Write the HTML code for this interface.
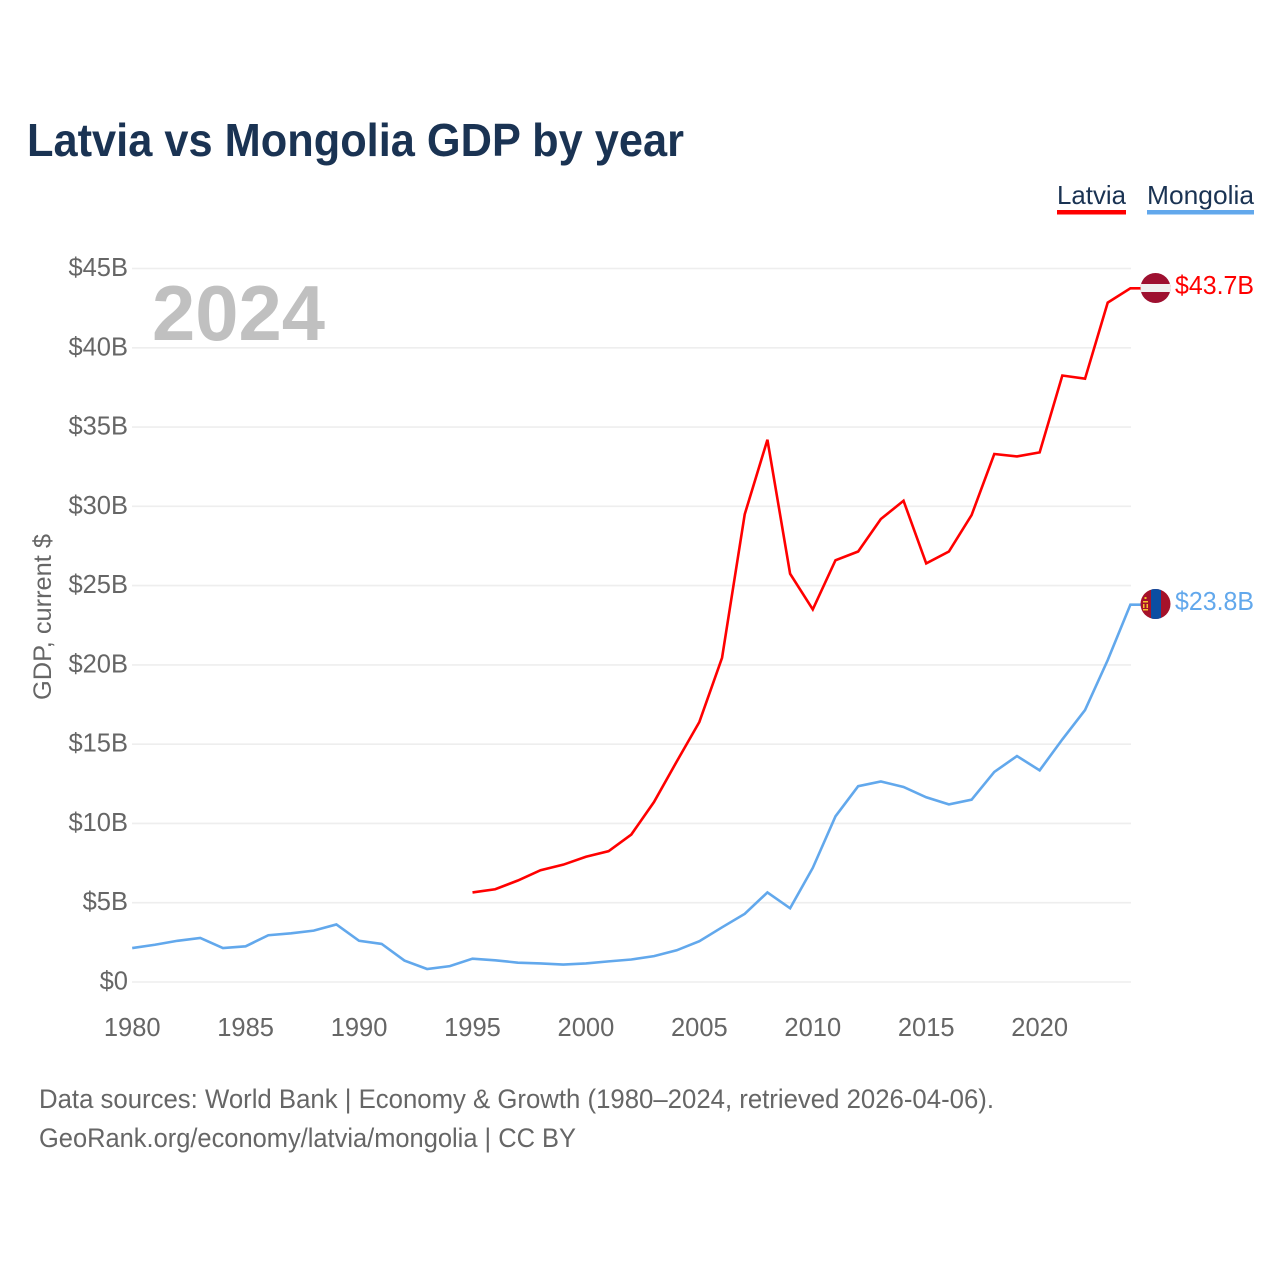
<!DOCTYPE html>
<html lang="en">
<head>
<meta charset="utf-8">
<title>Latvia vs Mongolia GDP by year</title>
<style>
html,body{margin:0;padding:0;background:#fff;width:1280px;height:1280px;overflow:hidden}
svg{display:block}
text{font-family:"Liberation Sans",sans-serif}
</style>
</head>
<body>
<svg id="chart" width="1280" height="1280" viewBox="0 0 1280 1280" xmlns="http://www.w3.org/2000/svg">
  <defs>
    <clipPath id="clip-lv"><circle cx="1155.5" cy="288" r="15"/></clipPath>
    <clipPath id="clip-mn"><circle cx="1155.5" cy="604" r="15"/></clipPath>
  </defs>
  <rect width="1280" height="1280" fill="#fff"/>
  <text x="27" y="156" font-size="46" font-weight="700" fill="#1a3353" textLength="657" lengthAdjust="spacingAndGlyphs">Latvia vs Mongolia GDP by year</text>

  <g>
    <g>
      <text x="1057" y="204" font-size="26" fill="#1a3353" textLength="69" lengthAdjust="spacingAndGlyphs">Latvia</text>
      <rect x="1057" y="210" width="69" height="4.5" fill="#ff0000"/>
    </g>
    <g>
      <text x="1147" y="204" font-size="26" fill="#1a3353" textLength="107" lengthAdjust="spacingAndGlyphs">Mongolia</text>
      <rect x="1147" y="210" width="107" height="4.5" fill="#62a8ec"/>
    </g>
  </g>

  <g id="grid"></g>
  <g id="yticks"></g>
  <g id="xticks"></g>

  <text x="152" y="340" font-size="78" font-weight="700" fill="#c0c0c0" textLength="173" lengthAdjust="spacingAndGlyphs">2024</text>
  <text transform="translate(51,700) rotate(-90)" font-size="25" fill="#666" textLength="166" lengthAdjust="spacingAndGlyphs">GDP, current $</text>

  <g id="series"></g>

  <g clip-path="url(#clip-lv)">
    <rect x="1140" y="272" width="32" height="32" fill="#9e1030"/>
    <rect x="1140" y="284" width="32" height="8" fill="#f0f0f0"/>
  </g>
  <g clip-path="url(#clip-mn)">
    <rect x="1140" y="588" width="32" height="32" fill="#a5122a"/>
    <rect x="1151" y="588" width="10" height="32" fill="#0b4ea2"/>
    <rect x="1144.5" y="597" width="2" height="2" fill="#f5c32c"/>
    <rect x="1143" y="601" width="5" height="1.5" fill="#f5c32c"/>
    <rect x="1143" y="604" width="1.5" height="4" fill="#f5c32c"/>
    <rect x="1146.5" y="604" width="1.5" height="4" fill="#f5c32c"/>
    <rect x="1143" y="609" width="5" height="1.5" fill="#f5c32c"/>
  </g>

  <text id="label-lv" x="1175" y="294" font-size="25.5" fill="#ff0000" textLength="79" lengthAdjust="spacingAndGlyphs"></text>
  <text id="label-mn" x="1175" y="610" font-size="25.5" fill="#62a8ec" textLength="79" lengthAdjust="spacingAndGlyphs"></text>

  <g>
    <text x="39" y="1108" font-size="27" fill="#666" textLength="955" lengthAdjust="spacingAndGlyphs">Data sources: World Bank | Economy &amp; Growth (1980–2024, retrieved 2026-04-06).</text>
    <text x="39" y="1147" font-size="27" fill="#666" textLength="537" lengthAdjust="spacingAndGlyphs">GeoRank.org/economy/latvia/mongolia | CC BY</text>
  </g>
</svg>
<script>
const years = [1980,1981,1982,1983,1984,1985,1986,1987,1988,1989,1990,1991,1992,1993,1994,1995,1996,1997,1998,1999,2000,2001,2002,2003,2004,2005,2006,2007,2008,2009,2010,2011,2012,2013,2014,2015,2016,2017,2018,2019,2020,2021,2022,2023,2024];
const mongolia = [2.14,2.35,2.6,2.78,2.14,2.25,2.95,3.07,3.24,3.63,2.6,2.4,1.35,0.82,1.0,1.47,1.37,1.22,1.17,1.1,1.17,1.3,1.42,1.63,2.0,2.57,3.45,4.3,5.65,4.65,7.2,10.45,12.35,12.65,12.3,11.65,11.2,11.5,13.25,14.25,13.35,15.3,17.15,20.3,23.8];
const latvia = [null,null,null,null,null,null,null,null,null,null,null,null,null,null,null,5.65,5.85,6.4,7.05,7.4,7.9,8.25,9.3,11.35,13.9,16.4,20.45,29.5,34.2,25.75,23.5,26.6,27.15,29.2,30.35,26.4,27.15,29.45,33.3,33.15,33.4,38.25,38.05,42.85,43.75];
const yTickValues = [0,5,10,15,20,25,30,35,40,45];
const xTickYears = [1980,1985,1990,1995,2000,2005,2010,2015,2020];
const latviaEndLabel = "$43.7B";
const mongoliaEndLabel = "$23.8B";

const NS = "http://www.w3.org/2000/svg";
const xScale = function (year) { return 132.2 + (year - 1980) * (1130.4 - 132.2) / 44; };
const yScale = function (value) { return 982 - value * (982 - 268.5) / 45; };

const grid = document.getElementById("grid");
const yticks = document.getElementById("yticks");
const xticks = document.getElementById("xticks");
const seriesGroup = document.getElementById("series");

yTickValues.forEach(function (v) {
  const line = document.createElementNS(NS, "line");
  
  
  line.setAttribute("x1", 132);
  line.setAttribute("x2", 1131);
  line.setAttribute("y1", yScale(v));
  line.setAttribute("y2", yScale(v));
  line.setAttribute("stroke", "#eeeeee");
  line.setAttribute("stroke-width", 1.6);
  grid.appendChild(line);

  const label = document.createElementNS(NS, "text");
  
  
  label.setAttribute("x", 128);
  label.setAttribute("y", yScale(v) + 7.5);
  label.setAttribute("text-anchor", "end");
  label.setAttribute("font-size", 25.5);
  label.setAttribute("fill", "#666");
  label.textContent = "$" + v + (v === 0 ? "" : "B");
  yticks.appendChild(label);
});

xTickYears.forEach(function (y) {
  const label = document.createElementNS(NS, "text");
  
  
  label.setAttribute("x", xScale(y));
  label.setAttribute("y", 1036);
  label.setAttribute("text-anchor", "middle");
  label.setAttribute("font-size", 25.5);
  label.setAttribute("fill", "#666");
  label.textContent = String(y);
  xticks.appendChild(label);
});

function pathFor(values) {
  let d = "";
  let lastY = null;
  values.forEach(function (v, i) {
    if (v === null) return;
    lastY = yScale(v);
    d += (d ? " L" : "M") + xScale(years[i]).toFixed(2) + " " + lastY.toFixed(2);
  });
  d += " H1141";
  return d;
}

const mongoliaLine = document.createElementNS(NS, "path");


mongoliaLine.setAttribute("d", pathFor(mongolia));
mongoliaLine.setAttribute("fill", "none");
mongoliaLine.setAttribute("stroke", "#62a8ec");
mongoliaLine.setAttribute("stroke-width", 2.6);
mongoliaLine.setAttribute("stroke-linejoin", "miter");
seriesGroup.appendChild(mongoliaLine);

const latviaLine = document.createElementNS(NS, "path");


latviaLine.setAttribute("d", pathFor(latvia));
latviaLine.setAttribute("fill", "none");
latviaLine.setAttribute("stroke", "#ff0000");
latviaLine.setAttribute("stroke-width", 2.6);
latviaLine.setAttribute("stroke-linejoin", "miter");
seriesGroup.appendChild(latviaLine);

document.getElementById("label-lv").textContent = latviaEndLabel;
document.getElementById("label-mn").textContent = mongoliaEndLabel;
</script>
</body>
</html>
